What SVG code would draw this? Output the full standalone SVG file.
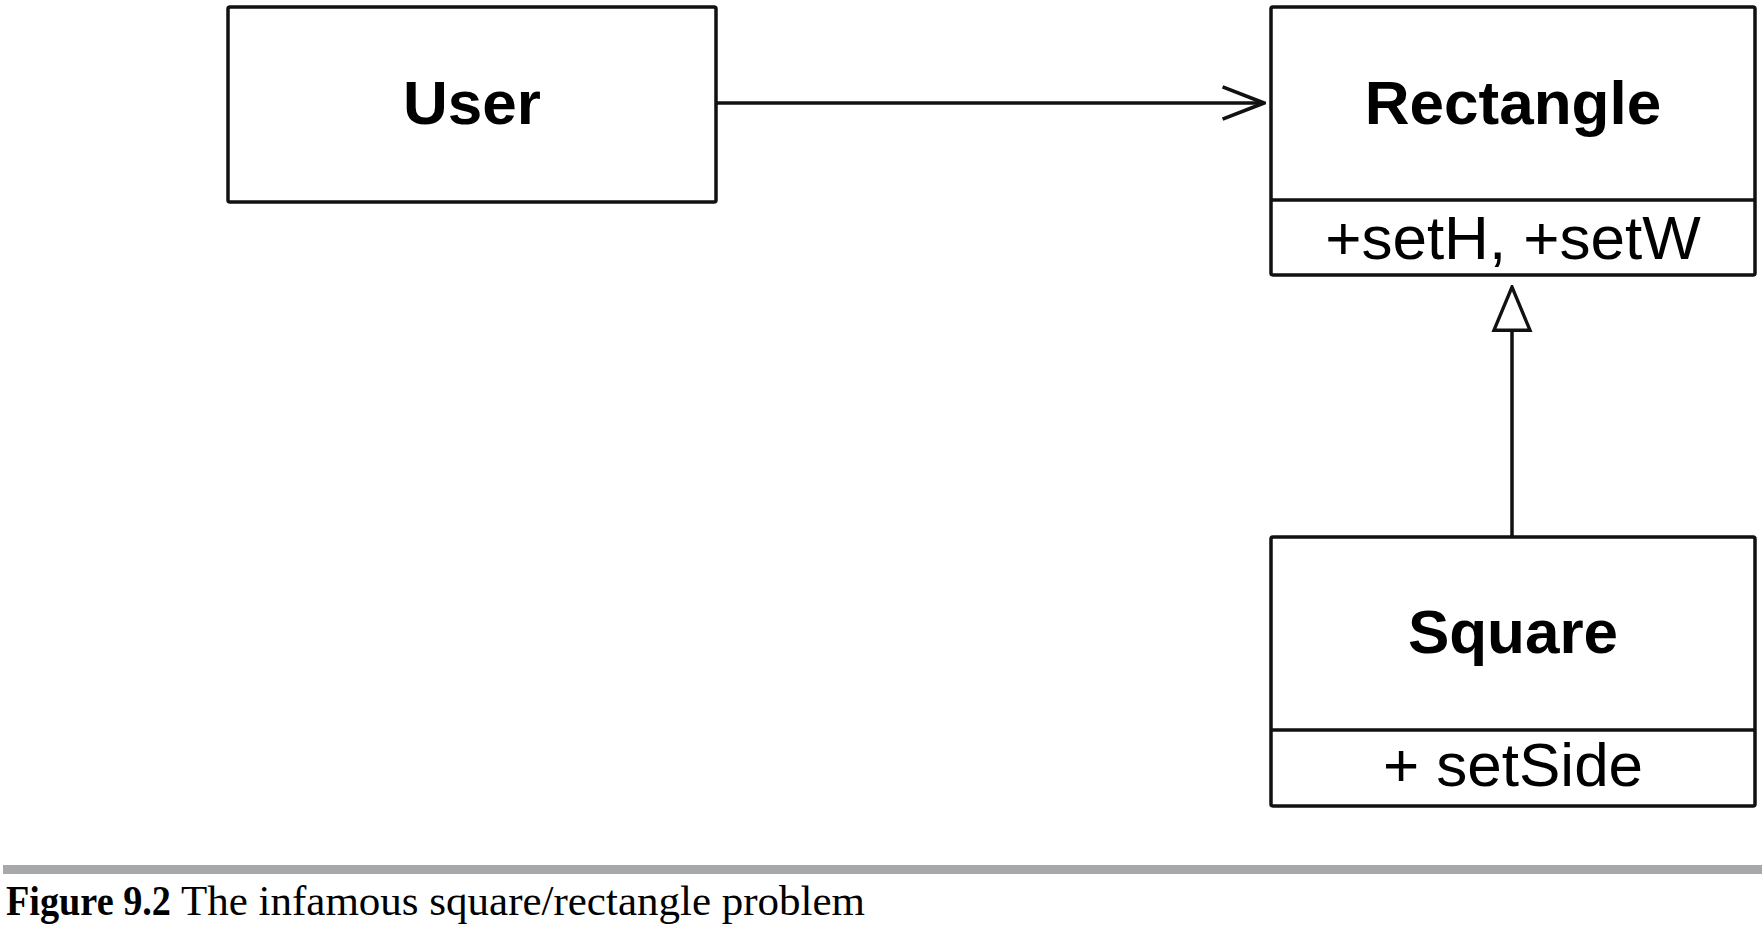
<svg xmlns="http://www.w3.org/2000/svg" width="1762" height="928" viewBox="0 0 1762 928">
<style>
.box{fill:#fff;stroke:#111;stroke-width:3.5}
.sep{stroke:#111;stroke-width:3.5}
.title{font-family:"Liberation Sans",Arial,sans-serif;font-weight:bold;font-size:62px;fill:#000;text-anchor:middle}
.op{font-family:"Liberation Sans",Arial,sans-serif;font-size:62px;fill:#000;text-anchor:middle}
.conn{fill:none;stroke:#111;stroke-width:3.5}
.cap{font-family:"Liberation Serif","Times New Roman",serif;font-size:42px;fill:#000}
</style>
<defs>
<marker id="open" viewBox="0 0 20 20" refX="19" refY="10" markerWidth="46" markerHeight="46" markerUnits="userSpaceOnUse" orient="auto">
<path d="M1,3 L19,10 L1,17" fill="none" stroke="#111" stroke-width="1.6"/>
</marker>
<marker id="tri" viewBox="0 0 20 20" refX="19" refY="10" markerWidth="48" markerHeight="48" markerUnits="userSpaceOnUse" orient="auto">
<path d="M1,2.5 L19,10 L1,17.5 Z" fill="#fff" stroke="#111" stroke-width="1.4"/>
</marker>
</defs>
<rect x="0" y="0" width="1762" height="928" fill="#fff"/>
<g id="connectors">
<line class="conn" x1="716" y1="103" x2="1264" y2="103" marker-end="url(#open)"/>
<line class="conn" x1="1512" y1="537" x2="1512" y2="287" marker-end="url(#tri)"/>
</g>
<g id="user">
<rect class="box" x="228" y="7" width="488" height="195" rx="2"/>
<text class="title" x="472" y="124">User</text>
</g>
<g id="rectangle">
<rect class="box" x="1271" y="7" width="484" height="268" rx="2"/>
<line class="sep" x1="1271" y1="200" x2="1755" y2="200"/>
<text class="title" x="1513" y="124">Rectangle</text>
<text class="op" x="1513" y="259">+setH, +setW</text>
</g>
<g id="square">
<rect class="box" x="1271" y="537" width="484" height="269" rx="2"/>
<line class="sep" x1="1271" y1="730" x2="1755" y2="730"/>
<text class="title" x="1513" y="653">Square</text>
<text class="op" x="1513" y="786">+ setSide</text>
</g>
<g id="caption">
<rect x="3" y="865" width="1759" height="9" fill="#a7a8ab"/>
<text class="cap" x="6" y="915" font-weight="bold" textLength="165" lengthAdjust="spacingAndGlyphs">Figure 9.2</text>
<text class="cap" x="181" y="915" textLength="684" lengthAdjust="spacingAndGlyphs">The infamous square/rectangle problem</text>
</g>
</svg>
